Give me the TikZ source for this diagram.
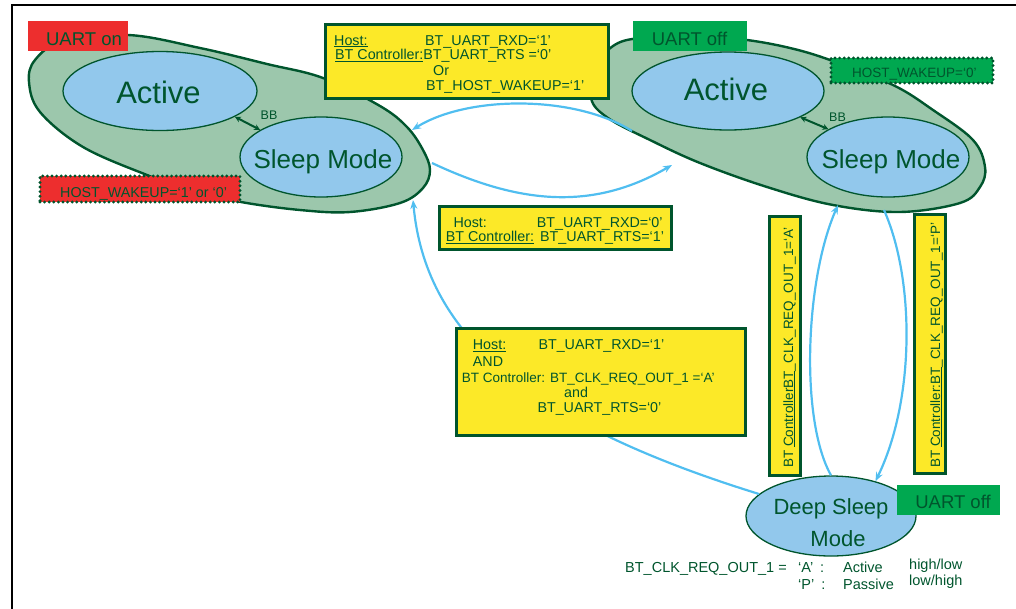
\documentclass[tikz,border=0pt]{standalone}
\usepackage{fontspec}
\setmainfont{Liberation Sans}
\usetikzlibrary{shapes.geometric,arrows.meta}
\definecolor{dg}{RGB}{0,85,45}
\definecolor{bigfill}{RGB}{156,199,172}
\definecolor{innerfill}{RGB}{146,200,236}
\definecolor{redbox}{RGB}{237,46,46}
\definecolor{grnbox}{RGB}{0,168,80}
\definecolor{yel}{RGB}{252,233,40}
\definecolor{arr}{RGB}{80,190,240}
\begin{document}
\begin{tikzpicture}[x=1pt,y=-1pt,
  bigshape/.style={draw=dg, fill=bigfill, line width=2.4pt},
  innerell/.style={ellipse, draw=dg, fill=innerfill, line width=1.3pt, inner sep=0pt},
  bigt/.style={text=dg, inner sep=0pt, anchor=base},
  yt/.style={text=dg, inner sep=0pt, anchor=base west, font=\fontsize{14.3}{16}\selectfont},
  lg/.style={text=dg, inner sep=0pt, anchor=base west, font=\fontsize{14.5}{16}\selectfont},
  ybox/.style={rectangle, draw=dg, fill=yel, line width=3pt, inner sep=0pt},
  uartbox/.style={rectangle, inner sep=0pt, minimum height=30pt},
  uartt/.style={text=dg, inner sep=0pt, anchor=base, font=\fontsize{18.5}{18.5}\selectfont},
  dotbox/.style={rectangle, draw=dg, line width=3.2pt, dash pattern=on 0pt off 4.6pt, line cap=round, inner sep=0pt},
  conn/.style={draw=arr, line width=2.2pt, -{Stealth[length=9pt,width=7pt]}},
  bbarrow/.style={draw=dg, line width=2pt, {Stealth[length=6pt,width=6pt]}-{Stealth[length=6pt,width=6pt]}},
  bbt/.style={text=dg, inner sep=0pt, anchor=base, font=\fontsize{12.5}{13}\selectfont},
]
\useasboundingbox (0,0) rectangle (1016,608);
% frame
\draw[line width=2.4pt] (12,612) -- (12,5) -- (1020,5);

% big green regions
\draw[bigshape] plot[smooth cycle, tension=0.6] coordinates {(29,82) (35,60) (62,42) (128,35) (200,48) (267,64) (323,78) (380,106) (407,127) (423,150) (430,170) (423,188) (400,203) (350,212) (300,210) (241,202) (190,190) (147,175) (83,147) (40,112)};
\draw[bigshape] plot[smooth cycle, tension=0.6] coordinates {(591,98) (597,67) (613,46) (640,38) (700,36) (747,40) (790,48) (830,60) (893,85) (933,110) (973,140) (985,167) (980,187) (960,203) (900,212) (833,205) (767,187) (700,163) (650,140) (608,118)};

% inner states
\node[innerell, minimum width=194pt, minimum height=79pt] (lact) at (160,91) {};
\node[innerell, minimum width=162pt, minimum height=80pt] (lsleep) at (321,157) {};
\node[innerell, minimum width=192pt, minimum height=78pt] (ract) at (728,91) {};
\node[innerell, minimum width=162pt, minimum height=80pt] (rsleep) at (888,157) {};
\node[innerell, minimum width=170pt, minimum height=80pt] (dsleep) at (831,516) {};

\node[bigt, font=\fontsize{31}{31}\selectfont] (lactT) at (158.5,103) {Active};
\node[bigt, font=\fontsize{26}{26}\selectfont] (lsleepT) at (323,168) {Sleep Mode};
\node[bigt, font=\fontsize{31}{31}\selectfont] (ractT) at (726,100) {Active};
\node[bigt, font=\fontsize{26}{26}\selectfont] (rsleepT) at (891,168) {Sleep Mode};
\node[bigt, font=\fontsize{22}{22}\selectfont] (dsleepT1) at (831,514) {Deep Sleep};
\node[bigt, font=\fontsize{22}{22}\selectfont] (dsleepT2) at (838,546) {Mode};

% BB arrows
\draw[bbarrow] (lact.-19) -- (lsleep.156);
\node[bbt] (lbb) at (269,119) {BB};
\draw[bbarrow] (ract.-20) -- (rsleep.155);
\node[bbt] (rbb) at (837.5,121) {BB};

% connectors
\coordinate (topS) at (632,131);
\coordinate (topE) at (412,130);
\draw[conn] (topS) .. controls (575,95) and (468,95) .. (topE);
\coordinate (midS) at (432,163);
\coordinate (midE) at (672,165);
\draw[conn] (midS) .. controls (517,203) and (591,212) .. (midE);
\coordinate (lowE) at (413,200);
\draw[conn] (dsleep.163) .. controls (520,420) and (425,330) .. (lowE);
\coordinate (upE) at (838,205);
\draw[conn] (dsleep.north) .. controls (800,420) and (805,280) .. (upE);
\coordinate (dnS) at (884,210);
\draw[conn] (dnS) .. controls (915,280) and (915,400) .. (dsleep.38);

% UART labels
\node[uartbox, fill=redbox, minimum width=100pt] (uon) at (78,36) {};
\node[uartt] (uonT) at (84,45) {UART on};
\node[uartbox, fill=grnbox, minimum width=114pt] (uoff1) at (690,36) {};
\node[uartt] (uoff1T) at (689.5,45) {UART off};
\node[uartbox, fill=grnbox, minimum width=103pt] (uoff2) at (948.5,500) {};
\node[uartt] (uoff2T) at (953,508) {UART off};

% HOST_WAKEUP boxes
\node[dotbox, fill=redbox, minimum width=200pt, minimum height=26pt] (hwL) at (140,189) {};
\node[yt] (hwLT) at (60,197) {HOST\_WAKEUP=‘1’ or ‘0’};
\node[dotbox, fill=grnbox, minimum width=162pt, minimum height=25pt] (hwR) at (912,70.5) {};
\node[yt, font=\fontsize{13.5}{16}\selectfont] (hwRT) at (852,77) {HOST\_WAKEUP=‘0’};

% top condition box
\node[ybox, minimum width=283pt, minimum height=74pt] (topbox) at (467,61.5) {};
\node[yt] (tb1) at (334,45) {\underline{Host:}};
\node[yt] (tb2) at (425,45) {BT\_UART\_RXD=‘1’};
\node[yt] (tb3) at (335,59.5) {\underline{BT Controller:}BT\_UART\_RTS =‘0’};
\node[yt] (tb4) at (433,75) {Or};
\node[yt] (tb5) at (426,90.5) {BT\_HOST\_WAKEUP=‘1’};

% middle condition box
\node[ybox, minimum width=232pt, minimum height=43pt] (midbox) at (555.5,228) {};
\node[yt] (mb1) at (453.3,227.3) {Host:};
\node[yt] (mb2) at (536.7,227.3) {BT\_UART\_RXD=‘0’};
\node[yt] (mb3) at (445.7,241.7) {\underline{BT Controller:}};
\node[yt] (mb4) at (540,241.7) {BT\_UART\_RTS=‘1’};

% lower condition box
\node[ybox, minimum width=289pt, minimum height=107pt] (lowbox) at (601,382) {};
\node[yt] (lb1) at (472.7,349.3) {\underline{Host:}};
\node[yt] (lb2) at (538.3,349.3) {BT\_UART\_RXD=‘1’};
\node[yt] (lb3) at (472.7,366) {AND};
\node[yt, font=\fontsize{13.5}{16}\selectfont] (lb4) at (461.7,382.3) {BT Controller: BT\_CLK\_REQ\_OUT\_1 =‘A’};
\node[yt] (lb5) at (564,397.3) {and};
\node[yt] (lb6) at (537.3,412.7) {BT\_UART\_RTS=‘0’};

% vertical condition boxes
\node[ybox, minimum width=31pt, minimum height=259pt] (vboxL) at (785,346) {};
\node[yt, rotate=90, font=\fontsize{13.5}{16}\selectfont] (vtL) at (793,468) {BT \underline{ControllerBT}\_CLK\_REQ\_OUT\_1=‘A’};
\node[ybox, minimum width=31pt, minimum height=259pt] (vboxR) at (930,344) {};
\node[yt, rotate=90, font=\fontsize{13.5}{16}\selectfont] (vtR) at (940,468) {BT \underline{Controller:BT}\_CLK\_REQ\_OUT\_1=‘P’};

% legend
\node[lg] (lg1) at (625,572) {BT\_CLK\_REQ\_OUT\_1 =};
\node[lg] (lg2) at (798,572) {‘A’\hspace{7pt}:};
\node[lg] (lg3) at (843,572) {Active};
\node[lg] (lg4) at (909,569) {high/low};
\node[lg] (lg5) at (798,589) {‘P’\hspace{7pt}:};
\node[lg] (lg6) at (843,589) {Passive};
\node[lg] (lg7) at (909,585) {low/high};
\end{tikzpicture}
\end{document}
